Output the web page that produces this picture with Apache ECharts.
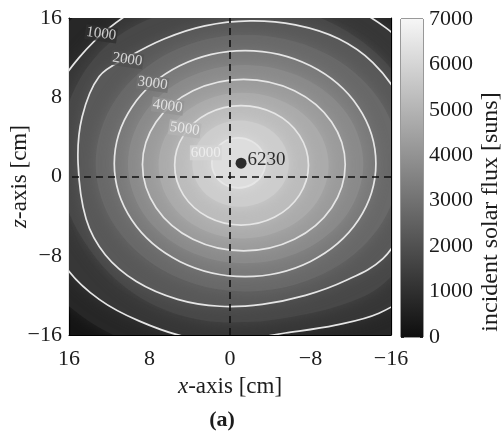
<!DOCTYPE html>
<html>
<head>
<meta charset="utf-8">
<script src="https://cdn.jsdelivr.net/npm/echarts@6/dist/echarts.min.js"></script>
<style>
html, body { margin: 0; padding: 0; background: #fff; }
#chart { width: 504px; height: 434px; }
</style>
</head>
<body>
<div id="chart"></div>
<script>
// iso-flux contours, [x cm, z cm]; outer ones run past the frame and get clipped
var c500 = [[21.5,0.5],[21.0,6.0],[19.5,10.5],[17.0,14.5],[13.5,17.8],[9.0,20.0],[3.5,21.3],[-2.0,21.6],[-7.5,21.2],[-13.0,19.6],[-17.8,17.0],[-21.5,13.2],[-24.0,8.3],[-25.0,2.5],[-24.6,-3.5],[-22.8,-9.0],[-19.8,-13.3],[-15.5,-16.3],[-10.5,-17.8],[-5.0,-18.4],[0.5,-18.6],[6.0,-18.0],[11.0,-16.3],[15.5,-13.5],[19.0,-9.8],[21.0,-5.0]];
var c1000 = [[19.0,0.5],[18.6,5.0],[17.2,8.8],[15.0,12.0],[12.0,15.0],[8.5,17.3],[4.0,18.8],[-1.0,19.3],[-6.0,19.0],[-11.0,17.6],[-15.5,15.0],[-19.0,11.5],[-21.3,7.0],[-22.3,2.0],[-22.0,-3.0],[-20.6,-7.8],[-18.2,-11.5],[-14.8,-13.8],[-10.5,-15.0],[-5.5,-15.8],[-0.5,-16.5],[4.3,-16.2],[9.0,-14.6],[13.0,-12.4],[16.2,-9.3],[18.3,-5.0]];
var c1500 = [[17.0,1.0],[16.6,5.5],[15.1,9.5],[12.6,12.9],[9.3,15.3],[5.2,16.8],[0.5,17.5],[-4.3,17.3],[-9.0,16.0],[-13.3,13.5],[-16.7,10.0],[-19.0,5.6],[-19.8,1.0],[-19.4,-3.8],[-17.6,-8.0],[-14.8,-11.2],[-11.0,-13.0],[-6.5,-14.1],[-1.8,-14.7],[2.8,-14.5],[7.3,-13.1],[11.1,-10.6],[14.0,-7.3],[16.1,-3.4]];
var c2000 = [[15.1,1.35],[14.7,6.0],[13.0,10.1],[10.2,12.0],[6.5,13.9],[2.5,15.2],[-2.0,15.7],[-6.5,15.3],[-10.8,13.9],[-14.2,11.5],[-16.8,8.0],[-18.3,3.8],[-18.5,-0.5],[-17.3,-4.9],[-15.2,-8.3],[-11.5,-10.5],[-7.5,-12.0],[-3.2,-12.9],[1.0,-13.1],[5.2,-12.4],[9.3,-10.6],[12.4,-7.9],[14.3,-4.3]];
var c2500 = [[13.35,1.3],[11.35,7.8],[5.9,12.56],[-1.55,14.3],[-9.2,12.56],[-14.8,7.8],[-16.85,1.3],[-14.8,-5.15],[-9.2,-9.87],[-1.55,-11.6],[5.9,-9.87],[11.35,-5.15]];
var c3000 = [[11.5,1.3],[9.76,7.0],[5.0,11.17],[-1.5,12.7],[-8.0,11.17],[-12.76,7.0],[-14.5,1.3],[-12.76,-4.4],[-8.0,-8.57],[-1.5,-10.1],[5.0,-8.57],[9.76,-4.4]];
var c3500 = [[10.15,1.25],[8.6,6.25],[4.35,9.91],[-1.45,11.25],[-7.35,9.91],[-11.67,6.25],[-13.25,1.25],[-11.67,-3.75],[-7.35,-7.41],[-1.45,-8.75],[4.35,-7.41],[8.6,-3.75]];
var c4000 = [[8.7,1.2],[7.35,5.5],[3.68,8.65],[-1.35,9.8],[-6.4,8.65],[-10.1,5.5],[-11.45,1.2],[-10.1,-3.15],[-6.4,-6.33],[-1.35,-7.5],[3.68,-6.33],[7.35,-3.15]];
var c4500 = [[7.1,1.15],[5.99,4.8],[2.95,7.47],[-1.2,8.45],[-5.5,7.47],[-8.65,4.8],[-9.8,1.15],[-8.65,-2.55],[-5.5,-5.26],[-1.2,-6.25],[2.95,-5.26],[5.99,-2.55]];
var c5000 = [[5.5,1.15],[4.62,4.15],[2.2,6.35],[-1.1,7.15],[-4.45,6.35],[-6.9,4.15],[-7.8,1.15],[-6.9,-1.88],[-4.45,-4.09],[-1.1,-4.9],[2.2,-4.09],[4.62,-1.88]];
var c5500 = [[3.75,1.25],[3.12,3.45],[1.4,5.06],[-0.95,5.65],[-3.4,5.06],[-5.19,3.45],[-5.85,1.25],[-5.19,-0.9],[-3.4,-2.47],[-0.95,-3.05],[1.4,-2.47],[3.12,-0.9]];
var c6000 = [[1.8,1.35],[1.45,2.63],[0.5,3.56],[-0.8,3.9],[-2.15,3.56],[-3.14,2.63],[-3.5,1.35],[-3.14,0.1],[-2.15,-0.82],[-0.8,-1.15],[0.5,-0.82],[1.45,0.1]];

var levels = [500, 1000, 1500, 2000, 2500, 3000, 3500, 4000, 4500, 5000, 5500, 6000];
var shapes = [c500, c1000, c1500, c2000, c2500, c3000, c3500, c4000, c4500, c5000, c5500, c6000];
var lineLevels = [1000, 2000, 3000, 4000, 5000, 6000];

// inline contour labels [x, z, level]
var contourLabels = [[12.8,14.4,1000],[10.2,11.8,2000],[7.7,9.4,3000],[6.2,7.1,4000],[4.5,4.8,5000],[2.4,2.4,6000]];
var peak = [-1.1, 1.35, 6230];

var axisTicks = [-16, -8, 0, 8, 16];
var fluxMax = 7000;

var serif = '"Liberation Serif", "DejaVu Serif", serif';
var ink = '#1c1c1c';

function gray(v) {
  var g = Math.round(14 + v / fluxMax * (246 - 14));
  return 'rgb(' + g + ',' + g + ',' + g + ')';
}
function minus(v) { return v < 0 ? '\u2212' + (-v) : '' + v; }

var chart = echarts.init(document.getElementById('chart'), null, {renderer: 'canvas'});

var plotAxisBase = {
  type: 'value', min: axisTicks[0], max: axisTicks[axisTicks.length - 1], interval: 8,
  splitLine: {show: false},
  axisLine: {show: true, onZero: false, lineStyle: {color: '#000', width: 1.2}},
  axisTick: {show: true, inside: true, length: 4, lineStyle: {color: '#000'}}
};
var nameStyle = {fontSize: 23, fontFamily: serif, color: ink,
  rich: {i: {fontStyle: 'italic', fontSize: 23, fontFamily: serif, color: ink}}};

var option = {
  backgroundColor: '#fff',
  animation: false,
  grid: [
    {left: 69, top: 18, width: 322, height: 317, show: true, backgroundColor: gray(200), borderWidth: 0, outerBoundsMode: 'none', containLabel: false},
    {left: 401, top: 19, width: 22, height: 318, show: true, borderColor: '#333', borderWidth: 1, outerBoundsMode: 'none', containLabel: false}
  ],
  xAxis: [
    Object.assign({}, plotAxisBase, {
      gridIndex: 0, position: 'bottom', inverse: true,
      axisLabel: {fontSize: 22, fontFamily: serif, color: ink, margin: 13, formatter: minus},
      name: '{i|x}-axis [cm]', nameLocation: 'middle', nameGap: 40, nameMoveOverlap: false,
      nameTextStyle: nameStyle
    }),
    Object.assign({}, plotAxisBase, {gridIndex: 0, position: 'top', inverse: true, axisLabel: {show: false}}),
    {gridIndex: 1, type: 'category', data: [''], show: false}
  ],
  yAxis: [
    Object.assign({}, plotAxisBase, {
      gridIndex: 0, position: 'left',
      axisLabel: {fontSize: 22, fontFamily: serif, color: ink, margin: 7, formatter: minus},
      name: '{i|z}-axis [cm]', nameLocation: 'middle', nameGap: 38, nameRotate: 90, nameMoveOverlap: false,
      nameTextStyle: nameStyle
    }),
    Object.assign({}, plotAxisBase, {gridIndex: 0, position: 'right', axisLabel: {show: false}}),
    {
      gridIndex: 1, type: 'value', min: 0, max: fluxMax, interval: 1000, position: 'right',
      splitLine: {show: false},
      axisLine: {show: false},
      axisTick: {show: true, inside: true, length: 3, lineStyle: {color: '#222'}},
      axisLabel: {fontSize: 22, fontFamily: serif, color: ink, margin: 6, formatter: function (v) { return '' + v; }}
    },
    {
      gridIndex: 1, type: 'value', min: 0, max: fluxMax, interval: 1000, position: 'left',
      splitLine: {show: false}, axisLabel: {show: false}, axisLine: {show: false},
      axisTick: {show: true, inside: true, length: 3, lineStyle: {color: '#222'}}
    }
  ],
  series: [
    {
      // filled flux bands, soft edges so the rings blend like the original shading
      type: 'custom', xAxisIndex: 0, yAxisIndex: 0, clip: true, silent: true, z: 1,
      data: levels.map(function (lv, i) { return [0, 0, i]; }),
      encode: {x: 0, y: 1},
      renderItem: function (params, api) {
        var i = api.value(2);
        var pts = shapes[i].map(function (p) { return api.coord(p); });
        var col = gray(levels[i] + 250);
        return {type: 'polygon', shape: {points: pts, smooth: 0.35},
          style: {fill: col, stroke: null, shadowBlur: 14, shadowColor: col}};
      }
    },
    {
      // white contour lines
      type: 'custom', xAxisIndex: 0, yAxisIndex: 0, clip: true, silent: true, z: 2,
      data: levels.map(function (lv, i) { return [0, 0, i]; }).filter(function (d) { return lineLevels.indexOf(levels[d[2]]) >= 0; }),
      encode: {x: 0, y: 1},
      renderItem: function (params, api) {
        var i = api.value(2);
        var pts = shapes[i].map(function (p) { return api.coord(p); });
        return {type: 'polygon', shape: {points: pts, smooth: 0.35}, style: {fill: 'none', stroke: '#e6e6e6', lineWidth: 1.7}};
      }
    },
    {
      // dashed x = 0 and z = 0 lines
      type: 'line', xAxisIndex: 0, yAxisIndex: 0, data: [], z: 3,
      markLine: {
        silent: true, symbol: 'none', label: {show: false},
        lineStyle: {color: '#111', type: [7, 5], width: 1.6},
        data: [{xAxis: 0}, {yAxis: 0}]
      }
    },
    {
      // contour level labels
      type: 'scatter', xAxisIndex: 0, yAxisIndex: 0, symbolSize: 0, z: 4, silent: true,
      data: contourLabels.map(function (d) {
        return {value: d, label: {backgroundColor: gray(d[2]), rotate: d[2] === 6000 ? 0 : -8}};
      }),
      label: {
        show: true, position: 'inside', color: '#f4f4f4', fontSize: 15, fontFamily: serif,
        padding: [0, 1],
        formatter: function (p) { return '' + p.value[2]; }
      }
    },
    {
      // peak flux
      type: 'scatter', xAxisIndex: 0, yAxisIndex: 0, symbolSize: 11, z: 5, silent: true,
      itemStyle: {color: '#000'},
      data: [peak],
      label: {
        show: true, position: 'right', distance: 1, color: '#000', fontSize: 19, fontFamily: serif,
        formatter: function (p) { return '' + p.value[2]; }, offset: [0, -3]
      }
    },
    {
      // colour bar
      type: 'bar', xAxisIndex: 2, yAxisIndex: 2, barWidth: '100%', silent: true,
      data: [fluxMax],
      itemStyle: {
        color: new echarts.graphic.LinearGradient(0, 1, 0, 0, [
          {offset: 0, color: gray(0)}, {offset: 1, color: gray(fluxMax)}
        ])
      }
    }
  ],
  graphic: [
    {type: 'text', x: 491, y: 212, rotation: Math.PI / 2,
      style: {text: 'incident solar flux [suns]', fontSize: 24, fontFamily: serif, fill: ink, align: 'center', verticalAlign: 'middle'}},
    {type: 'text', x: 222, y: 420,
      style: {text: '(a)', fontSize: 22, fontWeight: 'bold', fontFamily: serif, fill: ink, align: 'center', verticalAlign: 'middle'}}
  ]
};

chart.setOption(option);
</script>
</body>
</html>
